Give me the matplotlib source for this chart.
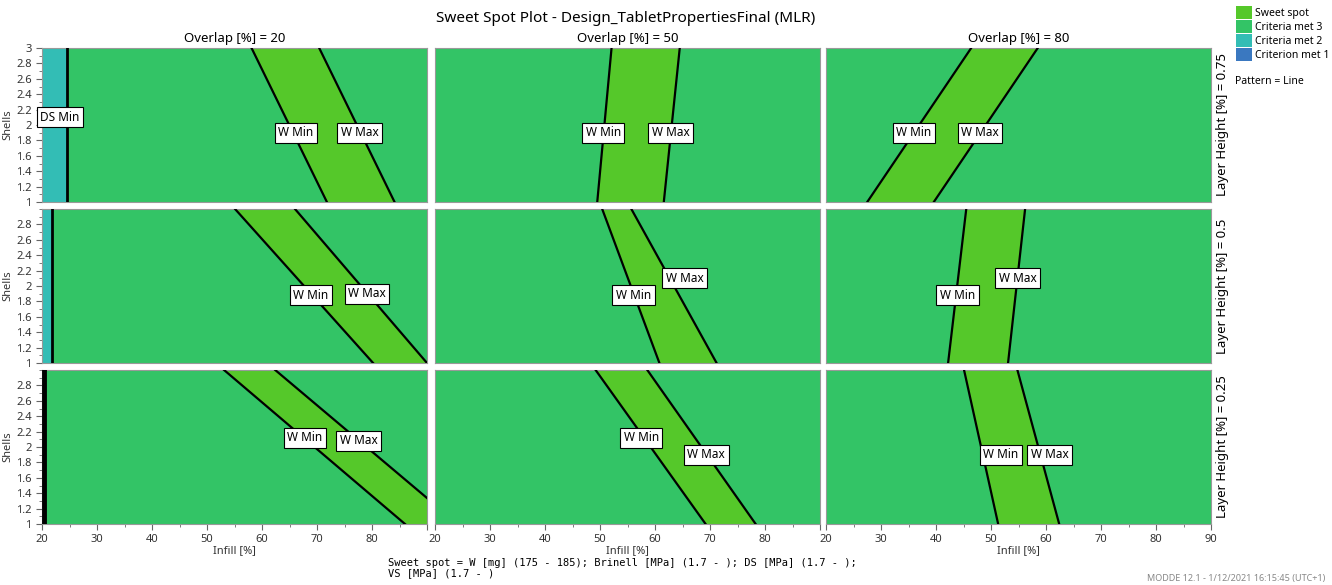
import numpy as np
import matplotlib
matplotlib.use('Agg')
import matplotlib.pyplot as plt
from matplotlib.patches import Patch
from matplotlib.ticker import MultipleLocator

plt.rcParams['font.family'] = ['Noto Sans', 'DejaVu Sans']

# === data ===
overlaps = [20, 50, 80]
layer_heights = [0.75, 0.5, 0.25]
shells_range = (1, 3)
infill_range = (20, 90)

# W Min / W Max line: infill at shells=3 and at shells=1, row = layer height, col = overlap
w_min_top = [[58.1, 52.1, 46.4], [55.1, 50.4, 45.5], [53.1, 49.2, 45.1]]
w_min_bot = [[71.8, 49.5, 27.5], [80.2, 60.8, 42.2], [86.0, 69.2, 51.3]]
w_max_top = [[70.4, 64.5, 58.5], [66.0, 55.7, 56.2], [62.4, 58.6, 54.8]]
w_max_bot = [[84.1, 61.6, 39.6], [90.0, 71.2, 53.1], [95.6, 78.3, 62.4]]
# DS Min (vertical) only in overlap 20 column
ds_min = [24.5, 21.8, 20.4]

# label positions (infill, shells)
w_min_lab = [[(66.2, 1.9), (50.6, 1.9), (36.0, 1.9)],
             [(68.9, 1.88), (56.1, 1.88), (43.9, 1.88)],
             [(67.8, 2.12), (57.5, 2.12), (51.8, 1.9)]]
w_max_lab = [[(77.8, 1.9), (62.8, 1.9), (48.0, 1.9)],
             [(79.1, 1.9), (65.4, 2.1), (54.8, 2.1)],
             [(77.6, 2.08), (69.3, 1.9), (60.7, 1.9)]]
ds_lab = (23.3, 2.1)

legend_labels = ['Sweet spot', 'Criteria met 3', 'Criteria met 2', 'Criterion met 1']
legend_colors = ['#55C82A', '#33C466', '#33BDB5', '#3A78C0']
C_SWEET, C_MET3, C_MET2, C_MET1 = legend_colors

fig = plt.figure(figsize=(13.32, 5.85), dpi=100)
W, H = 1332, 585
col_left = [42, 435, 826]
col_w = 385
row_top = [48, 209, 370]
row_h = 154

box = dict(boxstyle='square,pad=0.3', fc='white', ec='black', lw=0.8)
ys = np.array([3.0, 1.0])

for r in range(3):
    for c in range(3):
        ax = fig.add_axes([col_left[c] / W, 1 - (row_top[r] + row_h) / H, col_w / W, row_h / H])
        ax.set_xlim(*infill_range)
        ax.set_ylim(*shells_range)
        ax.set_facecolor(C_MET3)
        xmin = np.array([w_min_top[r][c], w_min_bot[r][c]])
        xmax = np.array([w_max_top[r][c], w_max_bot[r][c]])
        ax.fill_betweenx(ys, xmin, xmax, color=C_SWEET, lw=0, zorder=1)
        ax.plot(xmin, ys, color='black', lw=1.6, zorder=3)
        ax.plot(xmax, ys, color='black', lw=1.6, zorder=3)
        if c == 0:
            ax.axvspan(infill_range[0], ds_min[r], color=C_MET2, lw=0, zorder=1)
            ax.axvline(ds_min[r], color='black', lw=2 if r < 2 else 3.5, zorder=3)
            if r == 0:
                ax.text(*ds_lab, 'DS Min', fontsize=8.5, ha='center', va='center', bbox=box, zorder=5)
        ax.text(*w_min_lab[r][c], 'W Min', fontsize=8.5, ha='center', va='center', bbox=box, zorder=5)
        ax.text(*w_max_lab[r][c], 'W Max', fontsize=8.5, ha='center', va='center', bbox=box, zorder=5)

        ax.xaxis.set_major_locator(MultipleLocator(10))
        ax.xaxis.set_minor_locator(MultipleLocator(5))
        ax.yaxis.set_major_locator(MultipleLocator(0.2))
        ax.yaxis.set_minor_locator(MultipleLocator(0.1))
        ax.tick_params(which='both', colors='#666666', labelcolor='#333333', labelsize=8, direction='out')
        ax.tick_params(which='major', length=4)
        ax.tick_params(which='minor', length=2)
        for sp in ax.spines.values():
            sp.set_color('#999999')
            sp.set_linewidth(0.8)

        if c == 0:
            ticks = np.round(np.arange(1, 3.01, 0.2), 1)
            if r > 0:
                ticks = ticks[:-1]
            ax.set_yticks(ticks)
            ax.set_yticklabels([f'{t:g}' for t in ticks])
            ax.set_ylabel('Shells', fontsize=8, color='#333333', labelpad=2)
        else:
            ax.set_yticklabels([])
            ax.tick_params(axis='y', which='both', length=0)

        if r == 2:
            xt = list(range(20, 91, 10))
            ax.set_xticks(xt)
            ax.set_xticklabels([str(t) if (c == 2 or t < 90) else '' for t in xt])
            ax.set_xlabel('Infill [%]', fontsize=8, color='#333333', labelpad=0)
        else:
            ax.set_xticklabels([])
            ax.tick_params(axis='x', which='both', length=0)

        if r == 0:
            ax.set_title(f'Overlap [%] = {overlaps[c]}', fontsize=9.5, pad=4)
        if c == 2:
            ax.text(1.03, 0.5, f'Layer Height [%] = {layer_heights[r]:g}', transform=ax.transAxes,
                    rotation=90, ha='center', va='center', fontsize=9.5)

fig.text(626 / W, 1 - 18 / H, 'Sweet Spot Plot - Design_TabletPropertiesFinal (MLR)',
         ha='center', va='center', fontsize=11)

handles = [Patch(facecolor=col, edgecolor='none') for col in legend_colors]
leg = fig.legend(handles, legend_labels, loc='upper left', bbox_to_anchor=(1236 / W, 1 - 6 / H),
                 frameon=False, fontsize=7.5, handlelength=1.5, handleheight=1.55,
                 handletextpad=0.35, labelspacing=0.1, borderaxespad=0, borderpad=0)
fig.text(1235 / W, 1 - 82 / H, 'Pattern = Line', ha='left', va='center', fontsize=7.5)

fig.text(388 / W, 1 - 563 / H, 'Sweet spot = W [mg] (175 - 185); Brinell [MPa] (1.7 - ); DS [MPa] (1.7 - );',
         ha='left', va='center', fontsize=7.5, family='DejaVu Sans Mono')
fig.text(388 / W, 1 - 573 / H, 'VS [MPa] (1.7 - )',
         ha='left', va='center', fontsize=7.5, family='DejaVu Sans Mono')
fig.text(1325 / W, 1 - 579 / H, 'MODDE 12.1 - 1/12/2021 16:15:45 (UTC+1)',
         ha='right', va='center', fontsize=6.5, color='#888888')

fig.savefig('out.png', dpi=100)
